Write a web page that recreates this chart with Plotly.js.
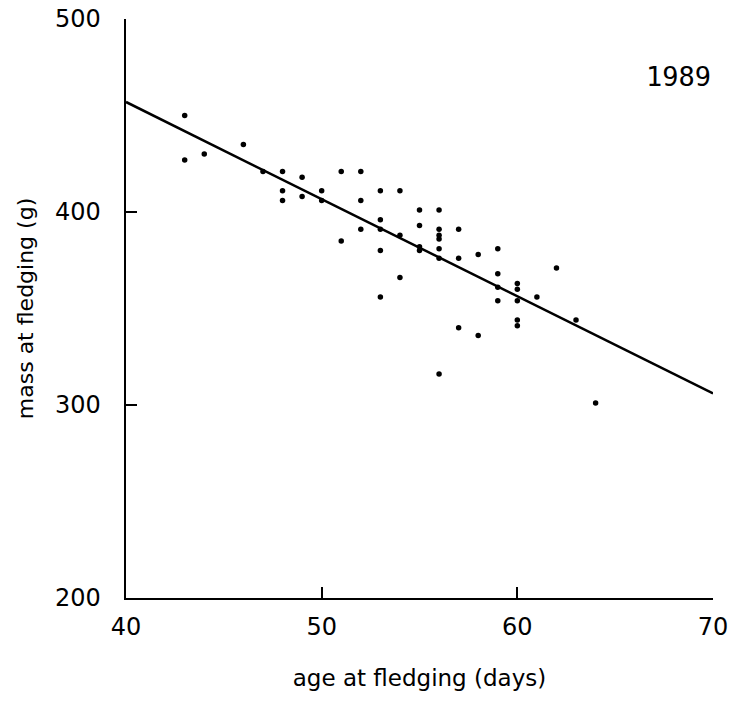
<!DOCTYPE html>
<html>
<head>
<meta charset="utf-8">
<script src="https://cdn.plot.ly/plotly-3.0.1.min.js"></script>
<style>html,body{margin:0;padding:0;background:#fff;}#chart{width:733px;height:702px;}</style>
</head>
<body>
<div id="chart"></div>
<script>
// Observed data: age at fledging (days) vs mass at fledging (g), 1989
const ageDays = [43, 43, 44, 46, 47, 48, 48, 48, 49, 49, 50, 50, 51, 51,
  52, 52, 52, 53, 53, 53, 53, 53, 54, 54, 54, 55, 55, 55, 55,
  56, 56, 56, 56, 56, 56, 56, 57, 57, 57, 58, 58,
  59, 59, 59, 59, 60, 60, 60, 60, 60, 61, 62, 63, 64];
const massG = [450, 427, 430, 435, 421, 421, 411, 406, 418, 408, 411, 406, 421, 385,
  421, 406, 391, 411, 396, 391, 380, 356, 411, 388, 366, 401, 393, 382, 380,
  401, 391, 388, 386, 381, 376, 316, 391, 376, 340, 378, 336,
  381, 368, 361, 354, 363, 360, 354, 344, 341, 356, 371, 344, 301];
// Fitted regression line end points
const fitAge = [40, 70];
const fitMass = [457, 306];
const xTicks = [40, 50, 60, 70];
const yTicks = [200, 300, 400, 500];

const fam = 'DejaVu Sans, sans-serif';
const data = [
  {x: ageDays, y: massG, type: 'scatter', mode: 'markers',
   marker: {color: '#000', size: 5.5}, hoverinfo: 'x+y'},
  {x: fitAge, y: fitMass, type: 'scatter', mode: 'lines',
   line: {color: '#000', width: 2.5}, hoverinfo: 'skip'}
];

const layout = {
  width: 733, height: 702,
  margin: {l: 126, r: 20, t: 19, b: 104},
  paper_bgcolor: '#fff', plot_bgcolor: '#fff',
  showlegend: false,
  font: {family: fam, color: '#000'},
  xaxis: {
    range: [40, 70], tickvals: xTicks, ticktext: xTicks.map(String),
    showgrid: false, zeroline: false,
    showline: true, linecolor: '#000', linewidth: 2,
    ticks: 'inside', ticklen: 11, tickwidth: 2, tickcolor: '#000',
    tickfont: {size: 24, family: fam, color: '#000'},
    ticklabelstandoff: 6,
    title: {text: 'age at fledging (days)', font: {size: 23, family: fam, color: '#000'}, standoff: 30}
  },
  yaxis: {
    range: [200, 500], tickvals: yTicks, ticktext: yTicks.map(String),
    showgrid: false, zeroline: false,
    showline: true, linecolor: '#000', linewidth: 2.5,
    ticks: 'inside', ticklen: 11, tickwidth: 2, tickcolor: '#000',
    tickfont: {size: 24, family: fam, color: '#000'},
    ticklabelstandoff: 18,
    title: {text: 'mass at fledging (g)', font: {size: 22, family: fam, color: '#000'}, standoff: 15}
  },
  annotations: [{
    text: '1989', xref: 'paper', yref: 'paper', x: 0.942, y: 0.90,
    xanchor: 'center', yanchor: 'middle', showarrow: false,
    font: {family: 'DejaVu Sans Mono, monospace', size: 27, color: '#000'}
  }]
};

Plotly.newPlot('chart', data, layout, {displayModeBar: false, staticPlot: true});
</script>
</body>
</html>
